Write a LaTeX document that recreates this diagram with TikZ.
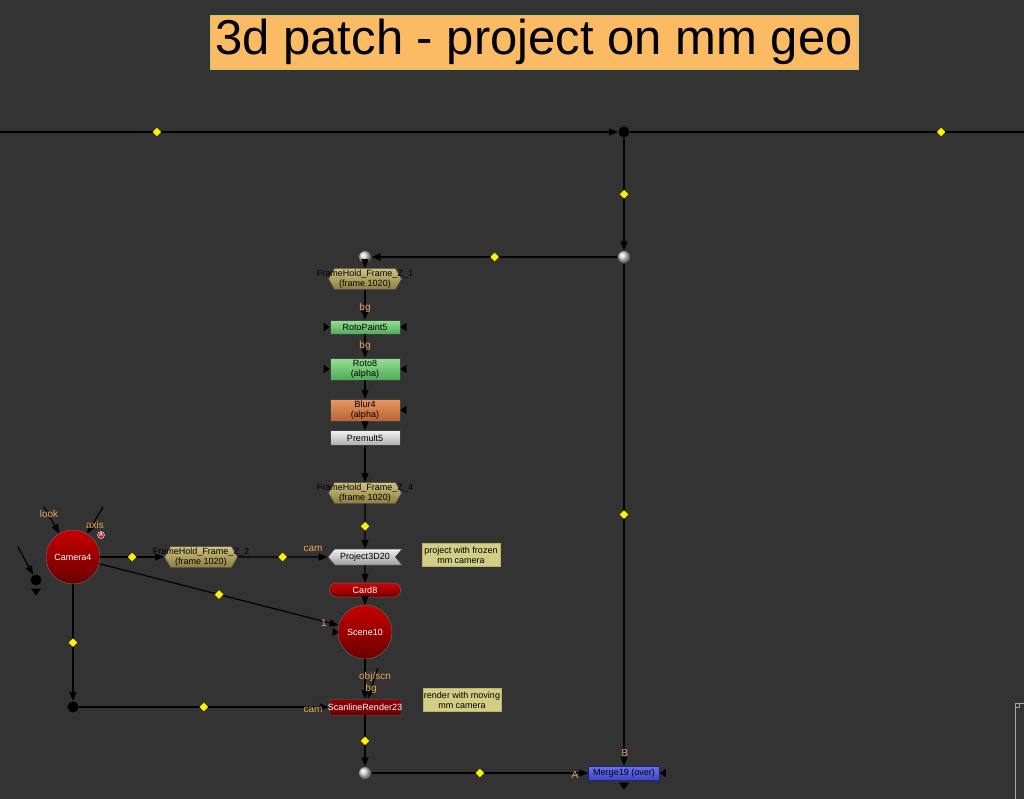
\documentclass[tikz,border=0pt]{standalone}
\usepackage{fontspec}
\setmainfont{Liberation Sans}
\usepackage{xcolor}
\usetikzlibrary{shapes.geometric}
\usetikzlibrary{shapes.symbols}
\usetikzlibrary{arrows.meta}
\definecolor{bgdark}{RGB}{51,51,51}
\definecolor{titleor}{RGB}{251,186,100}
\definecolor{lblor}{RGB}{236,166,86}
\definecolor{notey}{RGB}{210,206,132}
\newcommand{\nodefont}{\fontsize{9}{9.6}\selectfont}
\newcommand{\lblfont}{\fontsize{10}{10}\selectfont}
\tikzset{>={Triangle[length=9pt,width=7pt]}}

\begin{document}
\begin{tikzpicture}[x=1pt, y=-1pt, line width=1.2pt]
\tikzset{
  dmd/.style={diamond, fill=yellow, inner sep=0pt, minimum size=9pt},
  lbl/.style={text=lblor, font=\lblfont, inner sep=0pt},
  nbox/.style={rectangle, draw=black!75, line width=0.5pt, minimum width=70pt, inner sep=0pt, font=\nodefont, align=center},
  greenbox/.style={nbox, top color={rgb,255:red,150;green,225;blue,150}, bottom color={rgb,255:red,80;green,170;blue,85}},
  fhold/.style={signal, signal to=west and east, signal pointer angle=120, draw=black!70, line width=0.5pt, minimum width=73pt, minimum height=21pt, inner sep=0pt, top color={rgb,255:red,208;green,194;blue,128}, bottom color={rgb,255:red,140;green,126;blue,66}},
  fhtxt/.style={font=\nodefont, align=center, inner sep=0pt},
  note/.style={rectangle, fill=notey, draw={rgb,255:red,185;green,180;blue,110}, line width=0.5pt, minimum width=78pt, minimum height=23pt, inner sep=0pt, font=\nodefont, align=center},
  dotg/.style={circle, ball color=gray!30, minimum size=12pt, inner sep=0pt},
  dotb/.style={circle, fill=black, minimum size=11pt, inner sep=0pt},
  redball/.style={circle, minimum size=54pt, inner sep=0pt, draw=black!60, line width=0.5pt, top color={rgb,255:red,200;green,0;blue,0}, bottom color={rgb,255:red,105;green,0;blue,0}, text=white, font=\nodefont},
  badge/.style={circle, fill={rgb,255:red,200;green,30;blue,30}, draw=white, line width=0.4pt, minimum size=7pt, inner sep=0pt, text=white, font=\fontsize{5.5}{5.5}\bfseries},
  triR/.style={isosceles triangle, isosceles triangle apex angle=70, fill=black, inner sep=0pt, minimum height=6pt, minimum width=7pt},
  triL/.style={triR, shape border rotate=180},
  triD/.style={triR, shape border rotate=270, minimum height=7pt, minimum width=9pt}
}
\useasboundingbox (0,0) rectangle (1024,799);
\fill[bgdark] (0,0) rectangle (1024,799);
\clip (0,0) rectangle (1024,799);

% title
\node[rectangle, fill=titleor, draw={rgb,255:red,200;green,200;blue,120}, line width=0.6pt, minimum width=648pt, minimum height=54pt, inner sep=0pt, font=\fontsize{49}{50}\selectfont] (Title) at (534,42) {3d patch - project on mm geo};

% backdrop corner
\draw[gray!70, line width=0.8pt] (1024,703) -- (1015,703) -- (1015,799);
\draw[gray!70, line width=0.6pt] (1015,703) rectangle (1019,707);

% dots
\coordinate (OffL) at (-304,132);
\coordinate (OffR) at (1252,132);
\node[dotb] (DotTop) at (624,132) {};
\node[dotg] (DotA) at (624,257) {};
\node[dotg] (DotB) at (365,257) {};
\node[dotg] (DotC) at (365,773) {};
\node[dotb] (DotD) at (73,707) {};
\node[dotb] (DotE) at (36,580) {};

% main stack
\node[fhold, label={[fhtxt]center:{FrameHold\_Frame\_Z\_1\\(frame 1020)}}] (FH1) at (365,279) {};
\node[greenbox, minimum height=14pt] (RP5) at (365,327) {RotoPaint5};
\node[greenbox, minimum height=22pt] (Roto8) at (365,369) {Roto8\\(alpha)};
\node[nbox, minimum height=22pt, top color={rgb,255:red,232;green,150;blue,100}, bottom color={rgb,255:red,185;green,100;blue,52}] (Blur4) at (365,410) {Blur4\\(alpha)};
\node[nbox, minimum height=15pt, top color=white!95!black, bottom color=white!68!black] (Prem5) at (365,438) {Premult5};
\node[fhold, label={[fhtxt]center:{FrameHold\_Frame\_Z\_4\\(frame 1020)}}] (FH4) at (365,493) {};
\node[signal, signal to=west, signal from=east, signal pointer angle=100, draw=black!70, line width=0.5pt, minimum width=74pt, minimum height=16pt, inner sep=0pt, font=\nodefont, top color=white!95!black, bottom color=white!62!black] (P3D) at (365,557) {Project3D20};
\node[note] (Note1) at (461,555) {project with frozen\\mm camera};
\node[rectangle, rounded corners=6.5pt, minimum width=71pt, minimum height=14pt, inner sep=0pt, draw=black!60, line width=0.5pt, top color={rgb,255:red,205;green,0;blue,0}, bottom color={rgb,255:red,120;green,0;blue,0}, text=white, font=\nodefont] (Card8) at (365,590) {Card8};
\node[redball] (Scene10) at (365,632) {Scene10};
\node[nbox, minimum width=72pt, minimum height=16pt, top color={rgb,255:red,145;green,0;blue,0}, bottom color={rgb,255:red,110;green,0;blue,0}, label={[fhtxt, text=white]center:ScanlineRender23}] (SR23) at (365,707) {};
\node[note] (Note2) at (462,700) {render with moving\\mm camera};
\node[nbox, minimum width=71pt, minimum height=14pt, draw={rgb,255:red,30;green,35;blue,120}, top color={rgb,255:red,105;green,115;blue,235}, bottom color={rgb,255:red,62;green,72;blue,200}] (Mrg19) at (624,773) {Merge19 (over)};

% camera branch
\node[redball] (Cam4) at (73,557) {Camera4};
\node[fhold, label={[fhtxt]center:{FrameHold\_Frame\_Z\_2\\(frame 1020)}}] (FH2) at (201,557) {};

% mask inputs
\foreach \n in {RP5,Roto8} {
  \node[triR] (\n-mL) at ([xshift=-4pt]\n.west) {};
  \node[triL] (\n-mR) at ([xshift=4pt]\n.east) {};
}
\node[triL] (Blur4-mR) at ([xshift=4pt]Blur4.east) {};
\node[triL] (Mrg19-mR) at ([xshift=4pt]Mrg19.east) {};
\node[triD] (Mrg19-out) at ([yshift=-5pt]Mrg19.south) {};
\node[triR] (Scene10-m) at ([xshift=-3pt]Scene10.west) {};
\node[triD] (DotE-out) at ([yshift=-5pt]DotE.south) {};

% connections
\draw[->] (OffL) -- node[dmd]{} (DotTop);
\draw (DotTop) -- node[dmd]{} (OffR);
\draw[->] (DotTop) -- node[dmd]{} (DotA);
\draw[->] (DotA) -- node[dmd]{} (DotB);
\draw[->] (DotA) -- node[dmd]{} (Mrg19);
\draw[->] (DotB) -- (FH1);
\draw[->] (FH1) -- (RP5);
\draw[->] (RP5) -- (Roto8);
\draw[->] (Roto8) -- (Blur4);
\draw[->] (Blur4) -- (Prem5);
\draw[->] (Prem5) -- (FH4);
\draw[->] (FH4) -- node[dmd]{} (P3D);
\draw[->] (P3D) -- (Card8);
\draw[->] (Card8) -- (Scene10);
\draw[->] (Scene10) -- (SR23);
\draw[->] (SR23) -- node[dmd]{} (DotC);
\draw[->] (DotC) -- node[dmd]{} (Mrg19);
\draw[->] (Cam4) -- node[dmd]{} (FH2);
\draw[->] (FH2) -- node[dmd]{} (P3D);
\draw[->] (Cam4) -- node[dmd]{} (Scene10);
\draw[->] (Cam4) -- node[dmd]{} (DotD);
\draw[->] (DotD) -- node[dmd]{} (SR23);

% loose inputs
\coordinate (LookIn) at (44,507);
\coordinate (AxisIn) at (103,507);
\coordinate (DotEIn) at (18,547);
\coordinate (BgIn) at (378,668);
\draw[->] (LookIn) -- (Cam4);
\draw[->] (AxisIn) -- (Cam4);
\draw[->] (DotEIn) -- (DotE);
\draw[->] (BgIn) -- (SR23);

% input labels
\node[lbl] (lFH1) at (365,308) {bg};
\node[lbl] (lRP5) at (365,346) {bg};
\node[lbl] (lCamP) at (313,549) {cam};
\node[lbl] (lCamS) at (313,710) {cam};
\node[lbl] (lOne) at (324,623) {1};
\node[lbl] (lObj) at (375,677) {obj/scn};
\node[lbl] (lBg) at (371,689) {bg};
\node[lbl] (lB) at (625,753) {B};
\node[lbl] (lA) at (575,775) {A};
\node[lbl] (lLook) at (49,514) {look};
\node[lbl] (lAxis) at (95,525) {axis};
\node[badge] (AxisA) at (101,535) {A};
\end{tikzpicture}
\end{document}
